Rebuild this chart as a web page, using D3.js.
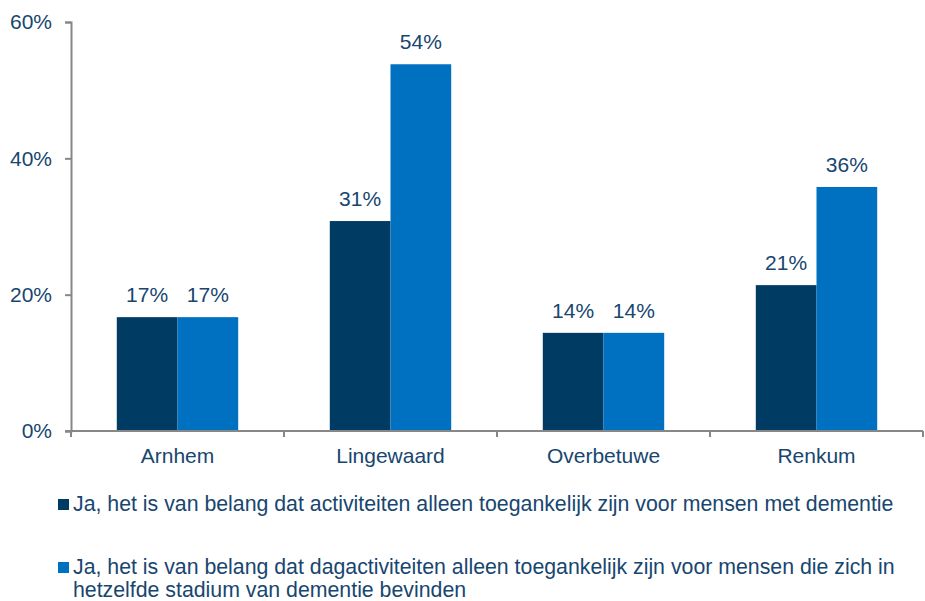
<!DOCTYPE html>
<html>
<head>
<meta charset="utf-8">
<script src="https://cdn.jsdelivr.net/npm/d3@7"></script>
<style>
  body { margin: 0; background: #fff; }
  svg { display: block; font-family: "Liberation Sans", Arial, sans-serif; }
</style>
</head>
<body>
<div id="chart"></div>
<script>
// Chart data
const categories = ["Arnhem", "Lingewaard", "Overbetuwe", "Renkum"];
const seriesNames = [
  "Ja, het is van belang dat activiteiten alleen toegankelijk zijn voor mensen met dementie",
  "Ja, het is van belang dat dagactiviteiten alleen toegankelijk zijn voor mensen die zich in hetzelfde stadium van dementie bevinden"
];
const activiteiten = [16.7, 30.8, 14.4, 21.4];
const dagactiviteiten = [16.7, 53.8, 14.4, 35.8];
const yTicks = [0, 20, 40, 60];

const colors = ["#003B64", "#0070C0"];
const textColor = "#17466F";
const axisColor = "#878787";
const fontSize = "21px";
const legendFontSize = "21.3px";

const width = 925, height = 601;
const margin = { top: 22, right: 2, bottom: 170, left: 71 };

const svg = d3.select("#chart").append("svg")
  .attr("width", width)
  .attr("height", height);

const x0 = d3.scaleBand()
  .domain(categories)
  .range([margin.left, width - margin.right])
  .paddingInner(0.43)
  .paddingOuter(0.215);

const x1 = d3.scaleBand()
  .domain([0, 1])
  .range([0, x0.bandwidth()]);

const y = d3.scaleLinear()
  .domain([0, 60])
  .range([height - margin.bottom, margin.top]);

const rows = categories.map((c, i) => ({ cat: c, values: [activiteiten[i], dagactiviteiten[i]] }));

// Bars
const groups = svg.selectAll("g.grp")
  .data(rows)
  .enter()
  .append("g")
  .attr("class", "grp")
  .attr("transform", d => `translate(${x0(d.cat)},0)`);

groups.selectAll("rect")
  .data(d => d.values.map((v, k) => ({ k, v })))
  .enter()
  .append("rect")
  .attr("x", d => x1(d.k))
  .attr("y", d => y(d.v))
  .attr("width", x1.bandwidth())
  .attr("height", d => y(0) - y(d.v))
  .attr("fill", d => colors[d.k]);

groups.selectAll("text")
  .data(d => d.values.map((v, k) => ({ k, v })))
  .enter()
  .append("text")
  .attr("x", d => x1(d.k) + x1.bandwidth() / 2)
  .attr("y", d => y(d.v) - 15)
  .attr("text-anchor", "middle")
  .style("font-size", fontSize)
  .attr("fill", textColor)
  .text(d => Math.round(d.v) + "%");

// Y axis
const yAxis = svg.append("g")
  .attr("transform", `translate(${margin.left},0)`)
  .call(d3.axisLeft(y).tickValues(yTicks).tickFormat(d => d + "%").tickSize(6).tickPadding(13));
yAxis.select(".domain").attr("stroke", axisColor).attr("stroke-width", 2);
yAxis.selectAll(".tick line").attr("stroke", axisColor).attr("stroke-width", 2);
yAxis.selectAll(".tick text").attr("fill", textColor).style("font-size", fontSize)
  .style("font-family", "'Liberation Sans', Arial, sans-serif");

// X axis: line with ticks at category boundaries
const step = x0.step();
const boundaries = d3.range(categories.length + 1).map(i => margin.left + i * step);
const xAxis = svg.append("g");
xAxis.append("line")
  .attr("x1", margin.left - 6)
  .attr("x2", width - margin.right)
  .attr("y1", y(0))
  .attr("y2", y(0))
  .attr("stroke", axisColor)
  .attr("stroke-width", 2);
xAxis.selectAll("line.tk")
  .data(boundaries)
  .enter()
  .append("line")
  .attr("class", "tk")
  .attr("x1", d => d)
  .attr("x2", d => d)
  .attr("y1", y(0))
  .attr("y2", y(0) + 6)
  .attr("stroke", axisColor)
  .attr("stroke-width", 2);
xAxis.selectAll("text")
  .data(categories)
  .enter()
  .append("text")
  .attr("x", d => x0(d) + x0.bandwidth() / 2)
  .attr("y", y(0) + 32)
  .attr("text-anchor", "middle")
  .style("font-size", fontSize)
  .attr("fill", textColor)
  .text(d => d);

// Legend
const legendLines = [
  [seriesNames[0]],
  ["Ja, het is van belang dat dagactiviteiten alleen toegankelijk zijn voor mensen die zich in",
   "hetzelfde stadium van dementie bevinden"]
];
const legendTop = [511, 574];
legendLines.forEach((lines, i) => {
  const g = svg.append("g");
  g.append("rect")
    .attr("x", 58)
    .attr("y", legendTop[i] - 12)
    .attr("width", 11)
    .attr("height", 11)
    .attr("fill", colors[i]);
  const t = g.append("text")
    .attr("x", 73)
    .attr("y", legendTop[i])
    .style("font-size", legendFontSize)
    .attr("fill", textColor);
  lines.forEach((l, j) => {
    t.append("tspan").attr("x", 73).attr("dy", j === 0 ? 0 : 23).text(l);
  });
});
</script>
</body>
</html>
